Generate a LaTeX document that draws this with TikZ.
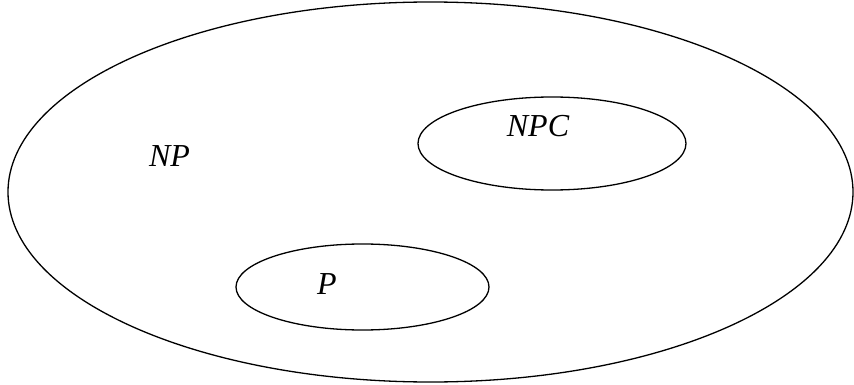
\documentclass[tikz,border=0pt]{standalone}
\usepackage{fontspec}
\setmainfont{Liberation Serif}
\begin{document}
\begin{tikzpicture}[x=1pt,y=-1pt,
  set/.style={draw=black,line width=1.3pt},
  lbl/.style={font=\fontsize{32}{36}\selectfont\itshape,anchor=base,inner sep=0pt}]
\useasboundingbox (0,0) rectangle (854,385);
\draw[set] (430.5,192) ellipse [x radius=422.5, y radius=190];
\draw[set] (552,143.5) ellipse [x radius=134, y radius=46.5];
\draw[set] (362.5,287) ellipse [x radius=126.5, y radius=43];
\node[lbl] (np) at (169.5,166) {NP};
\node[lbl] (npc) at (538,136) {NPC};
\node[lbl] (p) at (327,294) {P};
\end{tikzpicture}
\end{document}
